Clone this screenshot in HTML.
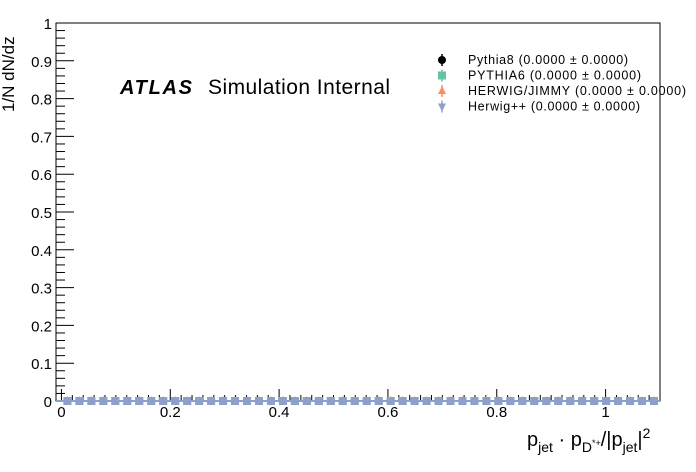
<!DOCTYPE html>
<html><head><meta charset="utf-8"><style>
body{margin:0;background:#fff;}
svg{display:block;font-family:"Liberation Sans",sans-serif;}
</style></head><body>
<svg id="c" width="696" height="472" xmlns="http://www.w3.org/2000/svg">
<g id="axes"></g><g id="marks"></g>
<text x="120" y="94" font-size="20" font-weight="bold" font-style="italic" textLength="72">ATLAS</text>
<text x="208" y="94" font-size="21" textLength="182">Simulation Internal</text>
<text transform="translate(14,112) rotate(-90)" font-size="17">1/N dN/dz</text>
<text x="527" y="446" font-size="20">p<tspan font-size="14" dy="6">jet</tspan><tspan dy="-6"> · p</tspan><tspan font-size="14" dy="6">D</tspan><tspan font-size="9" dy="-6">*+</tspan><tspan dy="0">/|p</tspan><tspan font-size="14" dy="6">jet</tspan><tspan dy="-6">|</tspan><tspan font-size="14" dy="-8">2</tspan></text>
<g id="legend"></g>
</svg>
<script>
const categories=[];for(let i=0;i<50;i++)categories.push(0.011+i*0.022);
const pythia8=new Array(50).fill(0);
const pythia6=new Array(50).fill(0);
const herwigJimmy=new Array(50).fill(0);
const herwigpp=new Array(50).fill(0);
const xTicks=[0,0.2,0.4,0.6,0.8,1];
const xTickLabels=["0","0.2","0.4","0.6","0.8","1"];
const yTicks=[0,0.1,0.2,0.3,0.4,0.5,0.6,0.7,0.8,0.9,1];
const yTickLabels=["0","0.1","0.2","0.3","0.4","0.5","0.6","0.7","0.8","0.9","1"];
const legendLabels=["Pythia8 (0.0000 ± 0.0000)","PYTHIA6 (0.0000 ± 0.0000)","HERWIG/JIMMY (0.0000 ± 0.0000)","Herwig++ (0.0000 ± 0.0000)"];
const legendWidths=[160,173,218,172];
const NS="http://www.w3.org/2000/svg";
const L=56,R=660,T=23,B=401,X0=-0.01,X1=1.1;
const sx=v=>L+(v-X0)/(X1-X0)*(R-L);
const sy=v=>B-v*(B-T);
function el(t,a,p){const e=document.createElementNS(NS,t);for(const k in a)e.setAttribute(k,a[k]);p.appendChild(e);return e;}
const ax=document.getElementById('axes');
const fr=el('rect',{x:L,y:T,width:R-L,height:B-T,fill:'none',stroke:'#000','stroke-width':1},ax);


for(let i=0;i<=50;i++){const v=i*0.02;const maj=i%5==0;
 el('line',{x1:L,x2:L+(maj?18:9),y1:sy(v),y2:sy(v),stroke:'#000'},ax);}
for(let i=-1;i<=55;i++){const v=i*0.02;if(v<X0||v>X1)continue;const maj=i%10==0;
 el('line',{x1:sx(v),x2:sx(v),y1:B,y2:B-(maj?12:6),stroke:'#000'},ax);}
yTicks.forEach((v,i)=>{const t=el('text',{x:L-4,y:sy(v)+6,'font-size':15,'text-anchor':'end'},ax);t.textContent=yTickLabels[i];
 
 });
xTicks.forEach((v,i)=>{const t=el('text',{x:sx(v),y:B+16,'font-size':15,'text-anchor':'middle'},ax);t.textContent=xTickLabels[i];
 
 });
const mk=document.getElementById('marks');
const series=[[pythia8,'#000','circle'],[pythia6,'#66c2a5','square'],[herwigJimmy,'#fc8d62','tri'],[herwigpp,'#8da0cb','square']];
function marker(x,y,c,s,p){
 if(s=='circle')return el('circle',{cx:x,cy:y,r:4,fill:c},p);
 if(s=='square')return el('rect',{x:x-4,y:y-4,width:8,height:8,fill:c},p);
 if(s=='itri')return el('polygon',{points:`${x},${y+5} ${x+4},${y-3} ${x-4},${y-3}`,fill:c},p);
 return el('polygon',{points:`${x},${y-5} ${x+4},${y+3} ${x-4},${y+3}`,fill:c},p);}
series.forEach(([d,c,s])=>{d.forEach((v,i)=>{const m=marker(sx(categories[i]),sy(v),c,s,mk);
 
 });});
el('line',{x1:L,x2:R,y1:sy(0),y2:sy(0),stroke:'#8da0cb','stroke-width':2},mk);
const lg=document.getElementById('legend');
const lshapes=[['#000','circle'],['#66c2a5','square'],['#fc8d62','tri'],['#8da0cb','itri']];
legendLabels.forEach((lab,i)=>{const y=60+i*15.5;
 el('line',{x1:442,x2:442,y1:y-6,y2:y+6,stroke:lshapes[i][0],'stroke-width':1.5},lg);
 marker(442,y,lshapes[i][0],lshapes[i][1],lg);
 const t=el('text',{x:468,y:y+4,'font-size':12.5,textLength:legendWidths[i]},lg);t.textContent=lab;
 
 });
</script>
</body></html>
